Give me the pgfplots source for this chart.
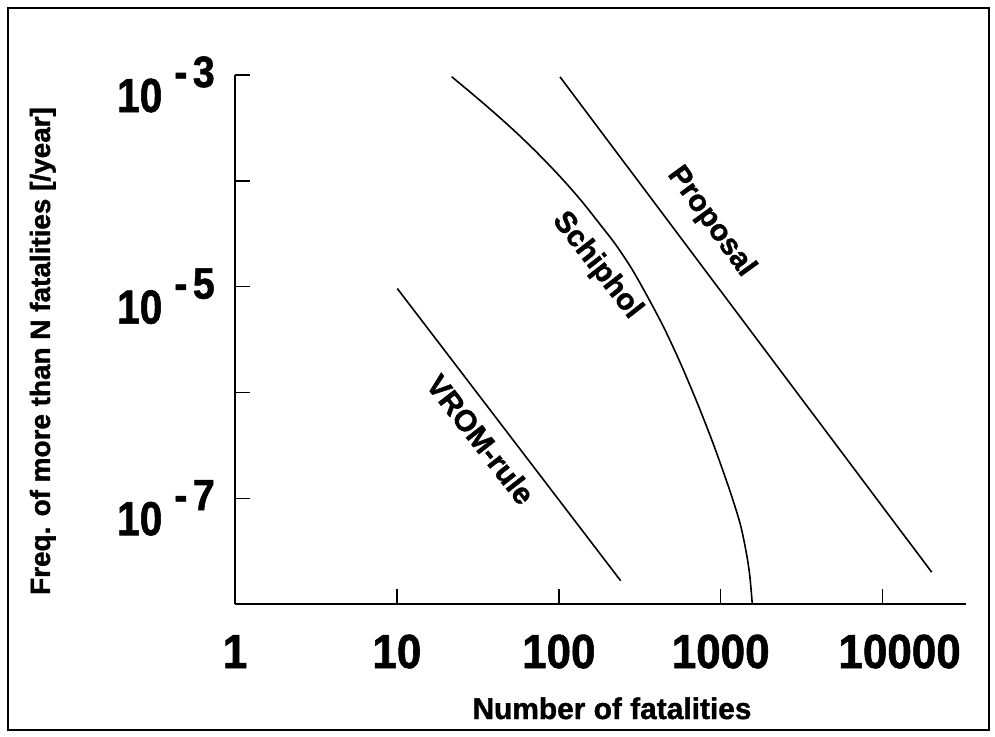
\documentclass[border=0pt]{standalone}
\usepackage{fontspec}
\setmainfont{Liberation Sans}[BoldFeatures={FakeBold=1.3}]
\usepackage{graphicx}
\usepackage{pgfplots}
\pgfplotsset{compat=1.18}
\newcommand{\tlab}[1]{\scalebox{0.85}[1]{\fontsize{48}{48}\selectfont 10}\hspace{12bp}\raisebox{25bp}{\scalebox{0.9}[1]{\fontsize{44}{44}\selectfont -\hspace{6bp}#1}}}
\newcommand{\xl}[1]{\scalebox{0.92}[1]{#1}}
\begin{document}
\begin{tikzpicture}
\path[use as bounding box] (-235bp,-133bp) rectangle (760bp,604bp);
\draw[line width=1.8bp] (-227bp,-126bp) rectangle (754bp,596bp);
\begin{axis}[
  at={(0,0)}, anchor=south west,
  scale only axis, width=731bp, height=529bp,
  xmode=log, ymode=log,
  xmin=1, xmax=32740, ymin=1e-8, ymax=1e-3,
  axis x line*=bottom, axis y line*=left,
  axis line style={line width=1.4bp, black},
  xtick={1,10,100,1000,10000},
  xticklabels={\xl{1},\xl{10},\xl{100},\xl{1000},\hspace*{34bp}\xl{10000}},
  ytick={1e-8,1e-7,1e-6,1e-5,1e-4,1e-3},
  yticklabels={{},\tlab{7},{},\tlab{5},{},\tlab{3}},
  minor xtick={}, minor ytick={},
  minor tick length=0pt, minor tick style={draw=none},
  tick align=inside, major tick length=15bp,
  major tick style={line width=1.4bp, black},
  xticklabel style={font=\fontsize{48}{48}\selectfont\bfseries, anchor=base, inner sep=0pt, yshift=-64bp},
  yticklabel style={font=\bfseries, anchor=base east, inner sep=0pt, xshift=-20bp, yshift=-37bp},
  clip=false,
]
% VROM-rule
\addplot[black, line width=1.6bp] coordinates {(10.05,9.6e-6) (241,1.66e-8)};
% Proposal
\addplot[black, line width=1.6bp] coordinates {(101.7,9.6e-4) (20100,2.0e-8)};
% Schiphol
\addplot[black, line width=1.6bp, smooth] coordinates {
 (21.78,9.64e-4) (28.18,6.95e-4) (35.48,5.15e-4) (44.67,3.78e-4) (56.23,2.74e-4)
 (70.79,1.95e-4) (89.13,1.36e-4) (112.2,9.31e-5) (141.3,6.18e-5) (177.8,3.96e-5)
 (223.9,2.51e-5) (281.8,1.48e-5) (354.8,7.94e-6) (446.7,4.07e-6) (562.3,1.91e-6)
 (707.9,8.32e-7) (891.3,3.39e-7) (1122,1.26e-7) (1318,5.75e-8) (1445,2.95e-8)
 (1514,1.82e-8) (1567,1.0e-8)};
\node[font=\fontsize{30}{30}\selectfont\bfseries, rotate=-54, inner sep=0pt] at (axis cs:871,4.1e-5) {Proposal};
\node[font=\fontsize{30}{30}\selectfont\bfseries, rotate=-52, inner sep=0pt] at (axis cs:172,1.58e-5) {Schiphol};
\node[font=\fontsize{30}{30}\selectfont\bfseries, rotate=-52, inner sep=0pt] at (axis cs:33,3.6e-7) {VROM-rule};
\end{axis}
\node[font=\fontsize{30}{30}\selectfont\bfseries, anchor=base] at (377bp,-115bp) {Number of fatalities};
\node[font=\fontsize{28}{28}\selectfont\bfseries, anchor=base, rotate=90] at (-185bp,253bp) {Freq. of more than N fatalities [/year]};
\end{tikzpicture}
\end{document}
